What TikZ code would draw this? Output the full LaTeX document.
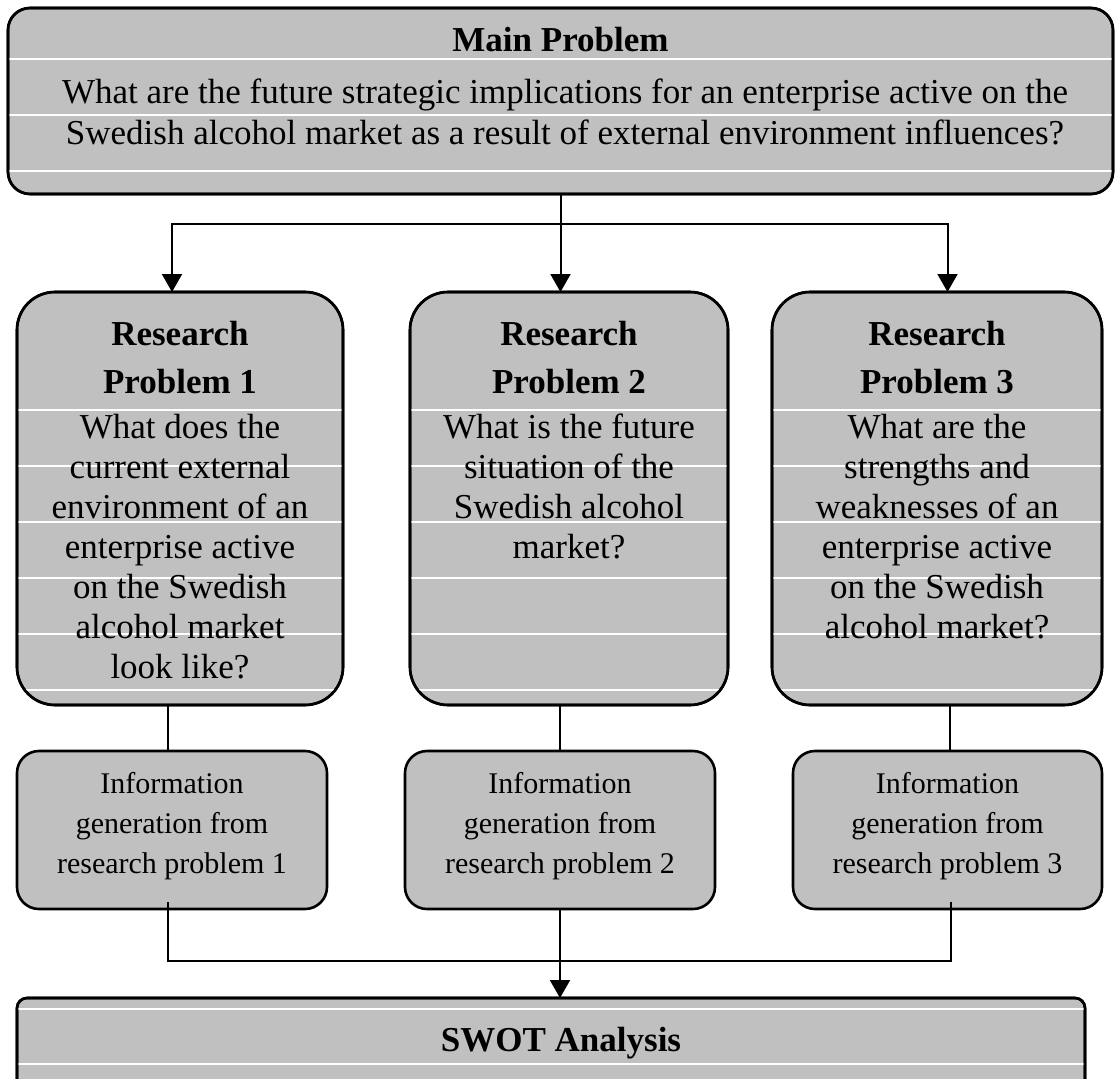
\documentclass[tikz,border=0pt]{standalone}
\usepackage{fontspec}
\setmainfont{Liberation Serif}
\usetikzlibrary{arrows.meta}
\definecolor{boxgray}{RGB}{192,192,192}
\tikzset{
  boxbase/.style={fill=boxgray, draw=black, line width=2.6pt, outer sep=0pt, inner sep=0pt},
  mainbox/.style={boxbase, rounded corners=22pt},
  resbox/.style={boxbase, rounded corners=38pt},
  infobox/.style={boxbase, rounded corners=22pt},
  swotbox/.style={boxbase, rounded corners=10pt},
  rim/.style={draw=black, line width=2.6pt},
  wline/.style={draw=white, line width=1.2pt},
  conn/.style={draw=black, line width=2pt},
  arr/.style={conn, -{Triangle[width=20pt,length=18pt]}},
  titletxt/.style={anchor=base, inner sep=0pt, font=\fontsize{35}{41}\selectfont\bfseries},
  maintxt/.style={anchor=north, inner sep=0pt, align=center, font=\fontsize{35}{41}\selectfont},
  headtxt/.style={anchor=north, inner sep=0pt, align=center, font=\fontsize{35}{48}\selectfont\bfseries},
  bodytxt/.style={anchor=north, inner sep=0pt, align=center, font=\fontsize{35}{40}\selectfont},
  infotxt/.style={anchor=north, inner sep=0pt, align=center, font=\fontsize{30}{40}\selectfont},
}
\newcommand\wlines[3]{%
  \begin{scope}
    \clip[rounded corners=#2] (#1.south west) rectangle (#1.north east);
    \foreach \yy in {#3} \draw[wline] (#1.west |- 0,\yy) -- (#1.east |- 0,\yy);
  \end{scope}
  \draw[rim, rounded corners=#2] (#1.south west) rectangle (#1.north east);
}
\begin{document}
\begin{tikzpicture}[x=1pt,y=-1pt]
\useasboundingbox[fill=white] (0,0) rectangle (1115,1078);

% boxes
\node[mainbox, minimum width=1105pt, minimum height=186pt] (main) at (560.5,101) {};
\node[resbox, minimum width=326pt, minimum height=413pt] (r1) at (180,498.5) {};
\node[resbox, minimum width=318pt, minimum height=413pt] (r2) at (569,498.5) {};
\node[resbox, minimum width=330pt, minimum height=413pt] (r3) at (937,498.5) {};
\node[infobox, minimum width=310pt, minimum height=158pt] (i1) at (172,830) {};
\node[infobox, minimum width=310pt, minimum height=158pt] (i2) at (560,830) {};
\node[infobox, minimum width=309pt, minimum height=158pt] (i3) at (947.5,830) {};
\node[swotbox, minimum width=1068pt, minimum height=110pt] (swot) at (551,1053) {};

% faint white rules inside the boxes
\wlines{main}{22pt}{59,115,171}
\wlines{r1}{38pt}{410,466,522,578,634,690}
\wlines{r2}{38pt}{410,466,522,578,634,690}
\wlines{r3}{38pt}{410,466,522,578,634,690}
\wlines{swot}{10pt}{1009,1064}

% texts
\node[titletxt] (mainT) at (560.5,52) {Main Problem};
\node[maintxt] (mainB) at (565,74.3) {\strut What are the future strategic implications for an enterprise active on the\\Swedish alcohol market as a result of external environment influences?};

\node[headtxt] (r1T) at (180,311.4) {\strut Research\\Problem 1};
\node[headtxt] (r2T) at (569,311.4) {\strut Research\\Problem 2};
\node[headtxt] (r3T) at (937,311.4) {\strut Research\\Problem 3};

\node[bodytxt] (r1B) at (180,410) {\strut What does the\\current external\\environment of an\\enterprise active\\on the Swedish\\alcohol market\\look like?};
\node[bodytxt] (r2B) at (569,410) {\strut What is the future\\situation of the\\Swedish alcohol\\market?};
\node[bodytxt] (r3B) at (937,410) {\strut What are the\\strengths and\\weaknesses of an\\enterprise active\\on the Swedish\\alcohol market?};

\node[infotxt] (i1T) at (172,765) {\strut Information\\generation from\\research problem 1};
\node[infotxt] (i2T) at (560,765) {\strut Information\\generation from\\research problem 2};
\node[infotxt] (i3T) at (947.5,765) {\strut Information\\generation from\\research problem 3};

\node[titletxt] (swotT) at (561,1051) {SWOT Analysis};

% connectors
\coordinate (split) at (main.south |- 0,224);
\draw[arr] (main.south) -- (main.south |- r2.north);
\draw[arr] (split) -| (r1.north -| i1);
\draw[arr] (split) -| (r3.north -| i3);

\draw[conn] ([xshift=-4pt]i1.north) -- ([xshift=-4pt]i1.north |- r1.south);
\draw[conn] (i2.north) -- (i2.north |- r2.south);
\draw[conn] ([xshift=2.5pt]i3.north) -- ([xshift=2.5pt]i3.north |- r3.south);

\coordinate (join) at (i2.south |- 0,961);
\draw[conn] ([xshift=-4pt,yshift=7pt]i1.south) |- (join)
            -| ([xshift=3.5pt,yshift=7pt]i3.south);
\draw[arr] (i2.south) -- (i2.south |- swot.north);
\end{tikzpicture}
\end{document}
